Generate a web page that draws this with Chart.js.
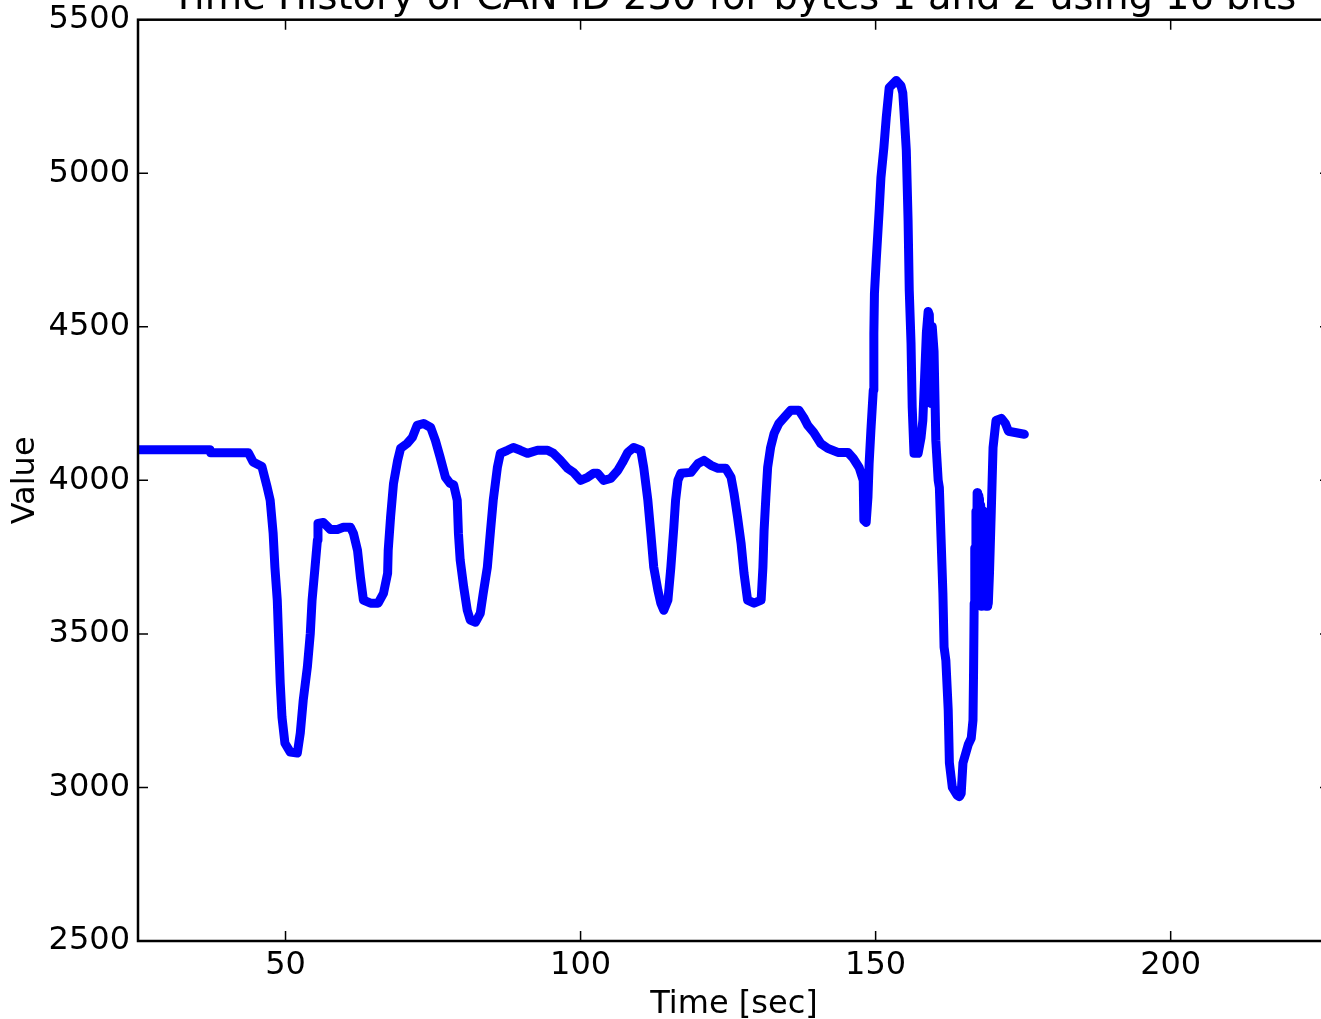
<!DOCTYPE html>
<html><head><meta charset="utf-8">
<script src="https://cdn.jsdelivr.net/npm/chart.js@4.4.0/dist/chart.umd.min.js"></script>
<style>
html,body{margin:0;padding:0;background:#fff;overflow:hidden;width:1321px;height:1019px;}
#wrap{position:absolute;left:0;top:-30px;width:1345px;height:1049px;}
</style></head><body>
<div id="wrap"><canvas id="c" width="1345" height="1049"></canvas></div>
<script>
const chartTitle = "Time History of CAN ID 230 for bytes 1 and 2 using 16 bits";
const xLabel = "Time [sec]";
const yLabel = "Value";
const xTicks = [50, 100, 150, 200];
const yTicks = [2500, 3000, 3500, 4000, 4500, 5000, 5500];
const timeSec = [25.0,37.2,37.3,43.7,44.5,46.0,46.9,47.4,47.9,48.2,48.6,48.8,49.1,49.4,49.9,50.8,52.0,52.5,53.0,53.7,54.2,54.5,55.0,55.4,55.5,56.4,57.6,58.8,59.8,61.0,61.5,62.2,62.7,63.2,64.4,65.7,66.6,67.3,67.4,67.8,68.3,69.0,69.5,70.6,71.5,72.3,73.4,74.6,75.4,76.2,77.1,77.9,78.5,79.1,79.3,79.6,80.2,80.8,81.3,82.2,83.0,83.5,84.2,84.7,85.2,85.9,86.4,87.6,88.6,89.8,91.0,92.7,94.4,95.4,96.6,97.8,98.8,100.0,101.2,102.2,102.9,103.9,105.1,106.3,107.1,108.0,109.0,110.2,110.7,111.4,111.9,112.4,113.1,113.6,114.1,114.8,115.3,115.8,116.1,116.5,117.0,118.7,119.9,120.9,122.1,123.3,124.6,125.5,126.0,126.6,127.2,127.7,128.3,129.4,130.6,130.9,131.1,131.4,131.7,132.2,132.8,133.6,134.8,135.6,137.0,137.8,138.5,139.5,140.7,141.9,143.6,145.3,146.2,147.2,147.9,148.0,148.4,148.7,148.9,149.2,149.6,149.7,149.8,150.1,150.6,150.9,151.4,151.8,152.3,153.5,154.3,154.6,154.8,155.2,155.5,155.7,156.0,156.2,156.5,157.2,157.7,158.0,158.3,158.6,158.9,159.1,159.4,159.6,159.9,160.2,160.6,160.8,161.1,161.4,161.6,161.9,162.3,162.5,163.0,163.8,164.2,164.5,164.8,165.7,166.2,166.5,166.6,166.7,166.8,166.9,167.0,167.1,167.2,167.3,167.4,167.5,167.6,167.7,167.8,167.9,168.0,168.1,168.2,168.3,168.4,168.5,168.6,168.7,168.8,168.9,169.0,169.1,169.3,169.6,169.9,170.4,171.3,172.0,172.5,175.2];
const values = [4100,4100,4090,4090,4060,4045,3977,3935,3828,3717,3610,3502,3340,3229,3144,3115,3112,3177,3284,3392,3502,3610,3717,3805,3860,3863,3840,3840,3847,3847,3828,3772,3684,3610,3600,3600,3632,3697,3772,3880,3990,4065,4104,4120,4140,4179,4185,4172,4130,4075,4010,3990,3985,3935,3828,3740,3652,3577,3545,3538,3567,3632,3717,3828,3935,4042,4088,4098,4107,4098,4088,4098,4098,4088,4065,4039,4026,4000,4010,4023,4023,4000,4006,4032,4058,4091,4107,4098,4042,3935,3828,3717,3642,3600,3577,3610,3717,3847,3935,4000,4023,4026,4055,4065,4049,4039,4039,4010,3958,3880,3795,3697,3610,3600,3610,3717,3837,3945,4042,4107,4153,4185,4211,4228,4228,4205,4179,4156,4120,4104,4091,4091,4072,4042,4000,3870,3863,3945,4055,4163,4293,4478,4608,4716,4879,4986,5084,5181,5279,5302,5285,5262,5204,5074,4846,4618,4446,4238,4088,4088,4140,4195,4335,4480,4550,4540,4250,4500,4420,4130,4000,3977,3805,3632,3457,3414,3252,3080,3000,2975,2970,2980,3080,3140,3160,3219,3382,3600,3780,3600,3900,3620,3960,3650,3950,3600,3940,3620,3920,3590,3900,3620,3900,3600,3880,3620,3870,3590,3850,3590,3800,3600,3700,3900,4107,4195,4202,4185,4160,4150,4150];

const points = timeSec.map((t, i) => ({x: t, y: values[i]}));
const FONT = "'DejaVu Sans', sans-serif";

const frame = {
  id: 'frame',
  afterDatasetsDraw(chart) {
    const {ctx, chartArea: {left, right, top, bottom}, scales: {x, y}} = chart;
    ctx.save();
    ctx.strokeStyle = '#000';
    ctx.lineWidth = 1.5;
    ctx.beginPath();
    xTicks.forEach(v => { const p = x.getPixelForValue(v); ctx.moveTo(p, bottom); ctx.lineTo(p, bottom - 10); ctx.moveTo(p, top); ctx.lineTo(p, top + 10); });
    yTicks.forEach(v => { const p = y.getPixelForValue(v); ctx.moveTo(left, p); ctx.lineTo(left + 10, p); ctx.moveTo(right, p); ctx.lineTo(right - 10, p); });
    ctx.stroke();
    ctx.lineWidth = 2.5;
    ctx.strokeRect(left, top, right - left, bottom - top);
    ctx.restore();
  }
};

new Chart(document.getElementById('c'), {
  type: 'line',
  data: { datasets: [{ data: points, borderColor: '#0000ff', borderWidth: 9, pointRadius: 0, tension: 0, borderJoinStyle: 'round', borderCapStyle: 'round' }] },
  options: {
    responsive: false, animation: false, devicePixelRatio: 1,
    layout: { padding: { left: 0, right: 15, top: 0, bottom: 0 } },
    plugins: {
      legend: { display: false }, tooltip: { enabled: false },
      title: { display: true, text: chartTitle, fullSize: false, color: '#000', font: { family: FONT, size: 38.4, weight: 'normal', lineHeight: 1.0 }, padding: { top: 9.5, bottom: 1.8 } }
    },
    scales: {
      x: {
        type: 'linear', min: 25, max: 227,
        afterBuildTicks: s => { s.ticks = xTicks.map(v => ({value: v})); },
        afterFit: s => { s.height = 78; },
        grid: { display: false, drawTicks: false }, border: { display: false },
        ticks: { color: '#000', font: { family: FONT, size: 32 }, padding: 5, maxRotation: 0 },
        title: { display: true, text: xLabel, color: '#000', font: { family: FONT, size: 32, lineHeight: 1.2 }, padding: { top: 0, bottom: -4.5 } }
      },
      y: {
        type: 'linear', min: 2500, max: 5500,
        afterBuildTicks: s => { s.ticks = yTicks.map(v => ({value: v})); },
        afterFit: s => { s.width = 138; },
        grid: { display: false, drawTicks: false }, border: { display: false },
        ticks: { color: '#000', font: { family: FONT, size: 32 }, padding: 8, callback: v => String(v) },
        title: { display: true, text: yLabel, color: '#000', font: { family: FONT, size: 32, lineHeight: 1.2 }, padding: { top: 6.3, bottom: 0 } }
      }
    }
  },
  plugins: [frame]
});
</script>
</body></html>
